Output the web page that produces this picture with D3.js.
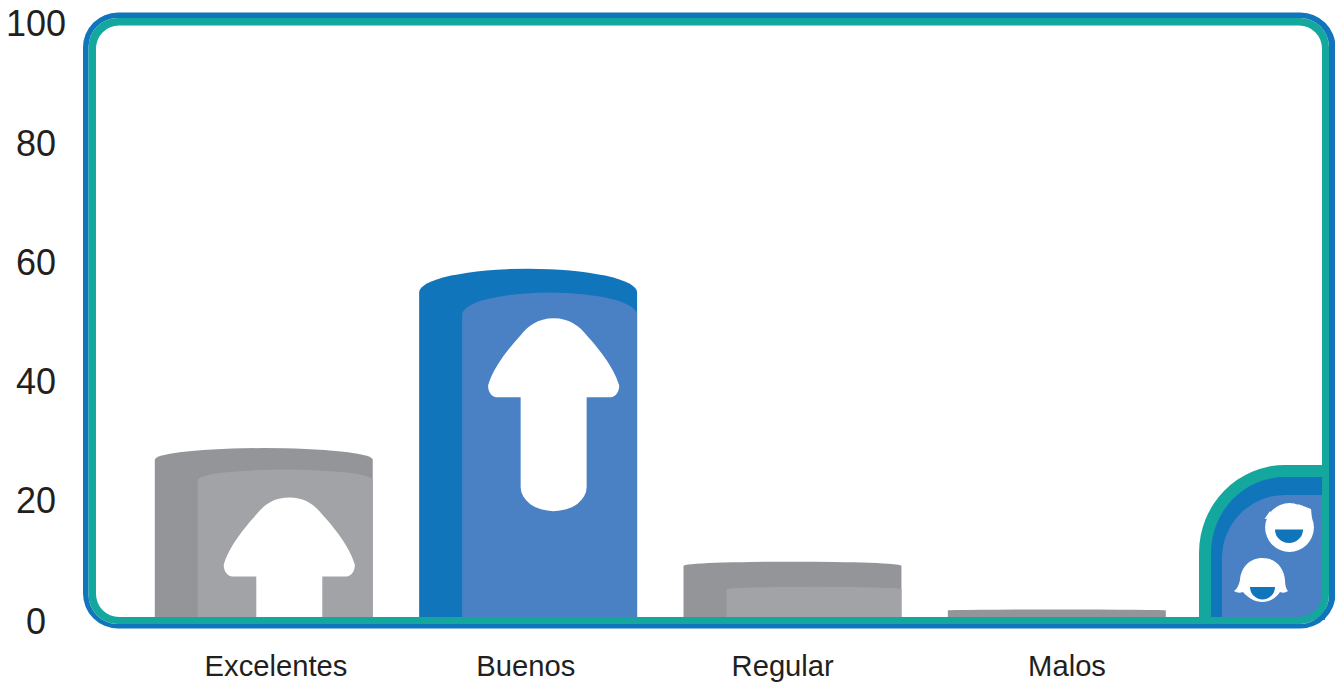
<!doctype html>
<html><head><meta charset="utf-8"/>
<style>
  html, body { margin:0; padding:0; background:#fff; overflow:hidden; }
  svg { display:block; }
  text { font-family:"Liberation Sans", Arial, sans-serif; fill:#231f20; }
</style>
</head><body>
<svg id="chart" width="1335" height="683"></svg>
<script src="https://cdn.jsdelivr.net/npm/d3@7"></script>
<script>
// Chart values
const categories = ["Excelentes", "Buenos", "Regular", "Malos"];
const values = [29, 59, 10, 2];
const innerValues = [25.4, 55, 5.8, 0];
const highlighted = ["Buenos"];
const arrowCategories = ["Excelentes", "Buenos"];
const yTicks = [0, 20, 40, 60, 80, 100];

const COLORS = {
  blue: "#1175bc", teal: "#14a79d", panel: "#4a80c4",
  gray: "#939598", grayLight: "#a1a3a6",
};

const svg = d3.select("#chart");
const y = d3.scaleLinear().domain([0, 100]).range([621.5, 23.5]);
const x = d3.scaleBand().domain(categories).range([154.8, 1165.8]).paddingInner(0.1755);
const BASE = 617; // top edge of the frame's bottom stroke

// the labels sit off-centre under their bars in the original
const labelNudge = { Excelentes: 12.2, Buenos: -2.3, Regular: -9.8, Malos: 10.2 };
// and the y labels are not quite evenly spaced
const tickNudge = { 0: 0, 20: -2, 40: -1, 60: 0, 80: 0, 100: 0 };

function roundedRect(l, t, r, b, rad) {
  return `M${l + rad},${t}H${r - rad}A${rad},${rad} 0 0 1 ${r},${t + rad}V${b - rad}` +
    `A${rad},${rad} 0 0 1 ${r - rad},${b}H${l + rad}A${rad},${rad} 0 0 1 ${l},${b - rad}` +
    `V${t + rad}A${rad},${rad} 0 0 1 ${l + rad},${t}Z`;
}

// column with a domed top; dome height grows with the value
function domed(left, right, top, dome) {
  const rx = (right - left) / 2;
  return `M${left},${BASE}V${top + dome}A${rx},${Math.max(dome, 0.01)} 0 0 1 ${right},${top + dome}V${BASE}Z`;
}

svg.append("defs").append("clipPath").attr("id", "plot-clip")
  .append("rect").attr("x", 90).attr("y", 20).attr("width", 1240).attr("height", BASE - 20);

// Bars
const bars = svg.append("g").selectAll("g")
  .data(categories.map((c, i) => ({ c, v: values[i], inner: innerValues[i] })))
  .enter().append("g");

bars.append("path")
  .attr("d", (d) => domed(x(d.c), x(d.c) + x.bandwidth(), y(d.v), d.v * 0.4))
  .attr("fill", (d) => (highlighted.includes(d.c) ? COLORS.blue : COLORS.gray));

bars.filter((d) => d.inner > 0).append("path")
  .attr("d", (d) => domed(x(d.c) + 43, x(d.c) + x.bandwidth(), y(d.inner), d.inner * 0.4))
  .attr("fill", (d) => (highlighted.includes(d.c) ? COLORS.panel : COLORS.grayLight));

// White arrows inside the tall bars
const arrowPath = "M0,0C16,0 26,8 33,17C43,28 60,48 65.5,67C66,73 62,79 57,79H33V169" +
  "A33,24 0 0 1 -33,169V79H-57C-62,79 -66,73 -65.5,67C-60,48 -43,28 -33,17C-26,8 -16,0 0,0Z";
svg.append("g").attr("clip-path", "url(#plot-clip)").selectAll("path")
  .data(arrowCategories).enter().append("path")
  .attr("d", arrowPath).attr("fill", "#fff")
  .attr("transform", (c) => `translate(${x(c) + 134.5},${y(values[categories.indexOf(c)]) + 49.5})`);

// Corner tab with the two faces
const tab = svg.append("g");
tab.append("path").attr("d", "M1199,620V553A86,88 0 0 1 1285,465H1325V620Z").attr("fill", COLORS.teal);
tab.append("path").attr("d", "M1211,620V553A74,76 0 0 1 1285,477H1322V620Z").attr("fill", COLORS.blue);
tab.append("path").attr("d", "M1222,620V558A63,63 0 0 1 1285,495H1322V620Z").attr("fill", COLORS.panel);

// man
tab.append("circle").attr("cx", 1289.5).attr("cy", 527.5).attr("r", 24.4).attr("fill", "#fff");
tab.append("path").attr("fill", "#fff")
  .attr("d", "M1264.5,519L1270,511L1274,518Z");
tab.append("path").attr("fill", "#fff")
  .attr("d", "M1311,509L1298,504L1304,516L1312,519Z");
tab.append("path").attr("fill", COLORS.blue).attr("d", "M1275,529.5H1303A14,13.5 0 0 1 1275,529.5Z");

// woman
tab.append("path").attr("fill", "#fff")
  .attr("d", "M1262.5,558C1249,558 1241,568 1240,580C1239,585 1237,589 1234,591C1237,593 1240,593 1243,592" +
    "C1248,598 1255,602 1262.5,602C1270,602 1276,598 1280,592C1283,593 1285,593 1288,591C1286,589 1285,585 1285,580" +
    "C1284,568 1276,558 1262.5,558Z");
tab.append("path").attr("fill", COLORS.blue).attr("d", "M1250,587H1275A12.5,12.5 0 0 1 1250,587Z");

// Frame: blue outer ring, teal inner ring, drawn over the bars
svg.append("path").attr("fill-rule", "evenodd").attr("fill", COLORS.blue)
  .attr("d", roundedRect(83, 12.5, 1335.5, 628.5, 35) + roundedRect(88.5, 18, 1329, 624, 29));
svg.append("path").attr("fill-rule", "evenodd").attr("fill", COLORS.teal)
  .attr("d", roundedRect(88.5, 18, 1329, 624, 29) + roundedRect(96, 25.5, 1322, BASE, 23));

// Axes
const yAxis = svg.append("g").attr("transform", "translate(36,0.6)")
  .call(d3.axisLeft(y).tickValues(yTicks).tickSize(0));
yAxis.select(".domain").remove();
yAxis.selectAll("text").attr("x", 0).attr("y", (t) => tickNudge[t]).attr("text-anchor", "middle")
  .attr("font-family", '"Liberation Sans", Arial, sans-serif').attr("font-size", 36).attr("fill", "#231f20");

const xAxis = svg.append("g").attr("transform", "translate(0,653)")
  .call(d3.axisBottom(x).tickSize(0));
xAxis.select(".domain").remove();
xAxis.selectAll("text").attr("y", 0).attr("dy", "0.8em").attr("dx", (c) => labelNudge[c])
  .attr("font-family", '"Liberation Sans", Arial, sans-serif').attr("font-size", 29.2).attr("fill", "#231f20");
</script>
</body></html>
